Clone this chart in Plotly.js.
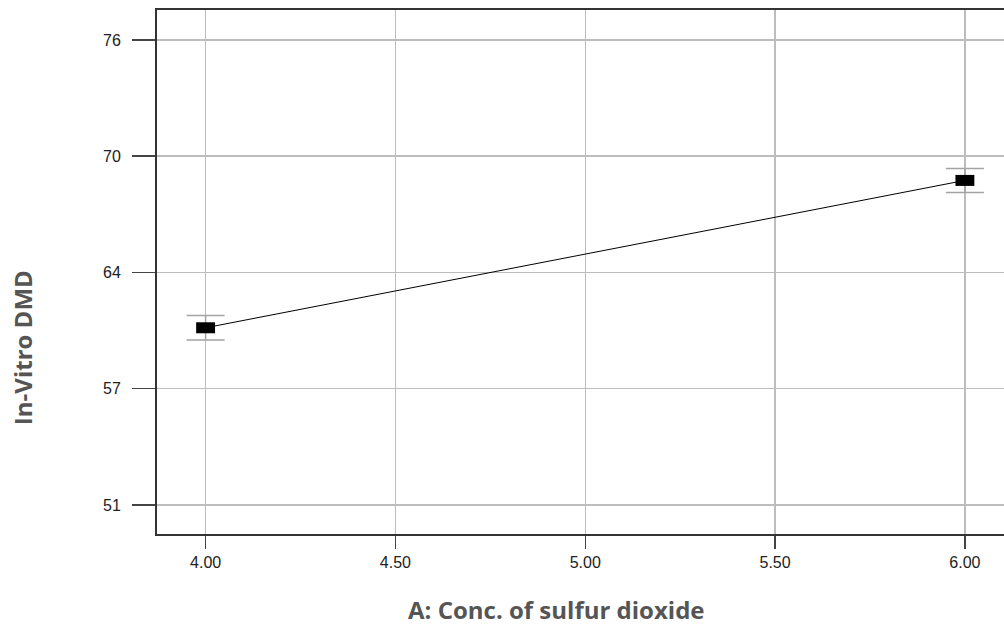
<!DOCTYPE html>
<html>
<head>
<meta charset="utf-8">
<script src="https://cdn.plot.ly/plotly-3.0.1.min.js"></script>
<style>
  html, body { margin: 0; padding: 0; background: #fff; }
  #chart { width: 1004px; height: 625px; }
</style>
</head>
<body>
<div id="chart"></div>
<script>
// Factor levels (A: SO2 concentration) and predicted In-Vitro DMD
const concLevels = [4.00, 6.00];
const dmdMeans   = [60.65, 68.51];
const dmdCI      = [0.65, 0.64];

// Axis ticks
const xTickVals  = [4.00, 4.50, 5.00, 5.50, 6.00];
const xTickText  = ['4.00', '4.50', '5.00', '5.50', '6.00'];
const yTickVals  = [51.2, 57.4, 63.6, 69.8, 76.0];
const yTickText  = ['51', '57', '64', '70', '76'];

const tickFont  = { family: 'Liberation Sans, Arial, sans-serif', size: 16, color: '#222' };
const titleFont = { family: 'Open Sans, sans-serif', size: 24, color: '#555', weight: 'bold' };

// Connecting effect line
const effectLine = {
  type: 'scatter',
  mode: 'lines',
  x: concLevels,
  y: dmdMeans,
  line: { color: '#000', width: 1 },
  hoverinfo: 'skip',
  showlegend: false
};

// Grey interval bars
const intervals = {
  type: 'scatter',
  mode: 'markers',
  x: concLevels,
  y: dmdMeans,
  marker: { size: 1, color: 'rgba(0,0,0,0)' },
  error_y: { type: 'data', array: dmdCI, visible: true, color: '#a3a3a3', thickness: 1.5, width: 19 },
  showlegend: false
};

// Rectangular point markers (thick horizontal bar symbol)
const points = {
  type: 'scatter',
  mode: 'markers',
  x: concLevels,
  y: dmdMeans,
  marker: { symbol: 'line-ew', size: 13.5, color: '#000', line: { color: '#000', width: 11 } },
  showlegend: false
};

const layout = {
  width: 1004,
  height: 625,
  margin: { l: 157, r: 0, t: 10, b: 91 },
  paper_bgcolor: '#fff',
  plot_bgcolor: '#fff',
  showlegend: false,
  xaxis: {
    range: [3.872, 6.103],
    tickmode: 'array',
    tickvals: xTickVals,
    ticktext: xTickText,
    ticks: 'outside',
    ticklen: 13,
    tickwidth: 1.5,
    tickcolor: '#444',
    tickfont: tickFont,
    showgrid: true,
    gridcolor: '#bdbdbd',
    gridwidth: 1.5,
    showline: true,
    linecolor: '#333',
    linewidth: 2,
    mirror: true,
    zeroline: false
  },
  yaxis: {
    range: [49.65, 77.6],
    tickmode: 'array',
    tickvals: yTickVals,
    ticktext: yTickText,
    ticks: 'outside',
    ticklen: 23,
    tickwidth: 1.5,
    tickcolor: '#444',
    tickfont: tickFont,
    ticklabelstandoff: 8,
    showgrid: true,
    gridcolor: '#bdbdbd',
    gridwidth: 1.5,
    showline: true,
    linecolor: '#333',
    linewidth: 2,
    zeroline: false
  },
  annotations: [
    {
      text: 'A: Conc. of sulfur dioxide',
      xref: 'paper', yref: 'paper',
      x: 0.472, y: -0.145,
      xanchor: 'center', yanchor: 'middle',
      showarrow: false,
      font: titleFont
    },
    {
      text: 'In-Vitro DMD',
      xref: 'paper', yref: 'paper',
      x: -0.158, y: 0.355,
      xanchor: 'center', yanchor: 'middle',
      textangle: -90,
      showarrow: false,
      font: titleFont
    }
  ]
};

Plotly.newPlot('chart', [effectLine, intervals, points], layout, { displayModeBar: false, staticPlot: true });
</script>
</body>
</html>
